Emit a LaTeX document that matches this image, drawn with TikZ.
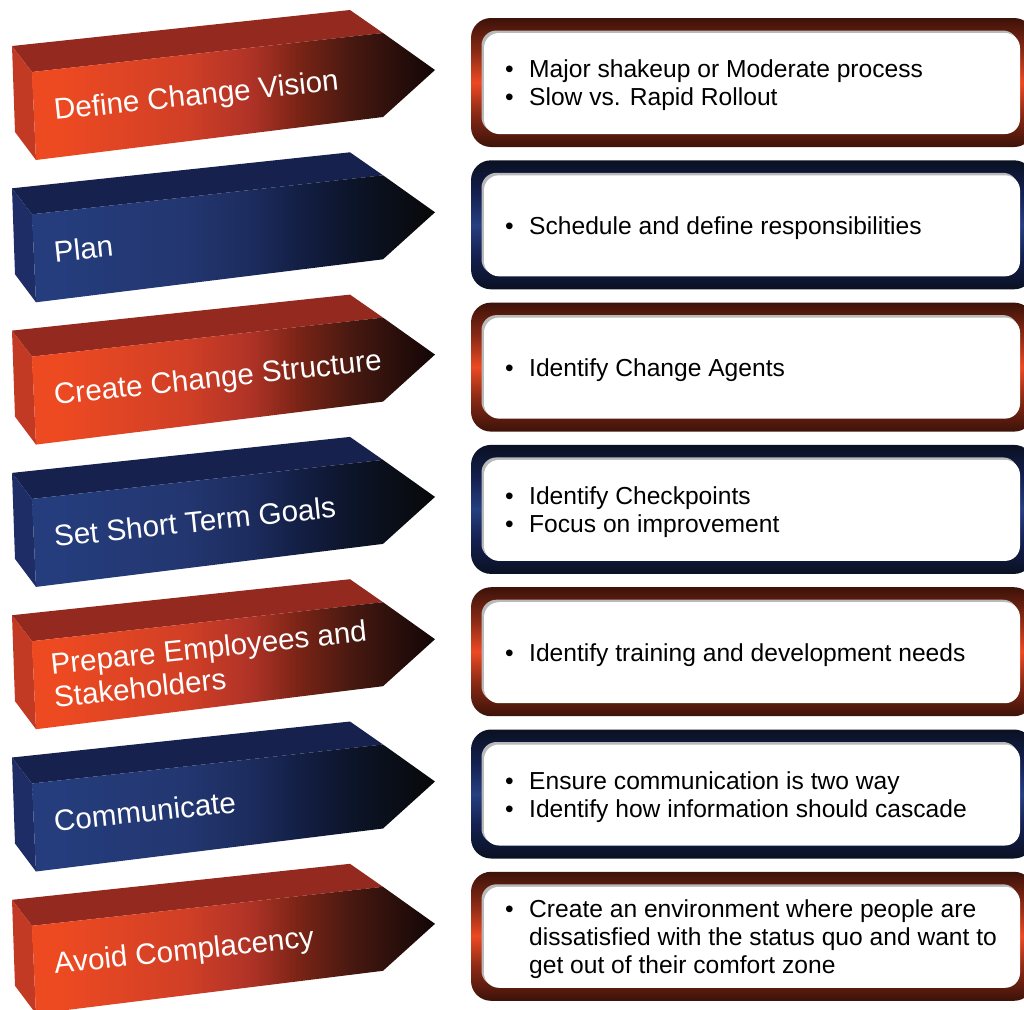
\documentclass[tikz,border=0pt]{standalone}
\usepackage{fontspec}
\setmainfont{Liberation Sans}
\usetikzlibrary{positioning}

\definecolor{oA}{HTML}{EE4A22}
\definecolor{oB}{HTML}{D13F26}
\definecolor{oC}{HTML}{B03327}
\definecolor{oD}{HTML}{7A2416}
\definecolor{oE}{HTML}{451810}
\definecolor{oF}{HTML}{120606}
\definecolor{oTop}{HTML}{942A1F}
\definecolor{oSide}{HTML}{C23A23}
\definecolor{oRim}{HTML}{3C1209}
\definecolor{oMid}{HTML}{8A2A16}
\definecolor{oGlow}{HTML}{EC4A22}

\definecolor{bA}{HTML}{253D7D}
\definecolor{bB}{HTML}{233670}
\definecolor{bC}{HTML}{1C2C5E}
\definecolor{bD}{HTML}{131F45}
\definecolor{bE}{HTML}{0C1428}
\definecolor{bF}{HTML}{080808}
\definecolor{bTop}{HTML}{17214E}
\definecolor{bSide}{HTML}{1E2D66}
\definecolor{bRim}{HTML}{0A1122}
\definecolor{bMid}{HTML}{142050}
\definecolor{bGlow}{HTML}{263F80}

\pgfdeclarehorizontalshading{oFace}{100bp}{color(0bp)=(oA); color(28bp)=(oA); color(44bp)=(oB); color(52bp)=(oC); color(58bp)=(oD); color(65bp)=(oE); color(75bp)=(oF); color(100bp)=(oF)}
\pgfdeclarehorizontalshading{bFace}{100bp}{color(0bp)=(bA); color(28bp)=(bA); color(44bp)=(bB); color(52bp)=(bC); color(58bp)=(bD); color(65bp)=(bE); color(75bp)=(bF); color(100bp)=(bF)}
\pgfdeclareverticalshading{oRimShade}{100bp}{color(0bp)=(oRim); color(25bp)=(oRim); color(38bp)=(oMid); color(50bp)=(oGlow); color(62bp)=(oMid); color(75bp)=(oRim); color(100bp)=(oRim)}
\pgfdeclareverticalshading{bRimShade}{100bp}{color(0bp)=(bRim); color(25bp)=(bRim); color(38bp)=(bMid); color(50bp)=(bGlow); color(62bp)=(bMid); color(75bp)=(bRim); color(100bp)=(bRim)}

\newcommand{\itm}{\makebox[24pt][l]{\textbullet}}
\newcommand{\hang}{\hspace*{24pt}}

\begin{document}
\begin{tikzpicture}[x=1pt, y=-1pt, line join=round,
    lbl/.style={text=white, inner sep=0pt, align=left, anchor=base west, rotate=6,
      font=\fontsize{29.6}{33}\selectfont},
    note/.style={text=black, inner sep=0pt, align=left, anchor=west,
      font=\fontsize{24.6}{28}\selectfont},
    rim/.style={rounded corners=20pt},
    pane/.style={rounded corners=15pt}]
\clip (0,0) rectangle (1024,1009);
\foreach \i/\sch/\dy/\lab/\txt in {
    1/o/0/{Define Change Vision}/{\itm Major shakeup or Moderate process\\\itm Slow vs. Rapid Rollout},
    2/b/0/{Plan}/{\itm Schedule and define responsibilities},
    3/o/0/{Create Change Structure}/{\itm Identify Change Agents},
    4/b/0/{Set Short Term Goals}/{\itm Identify Checkpoints\\\itm Focus on improvement},
    5/o/18/{Prepare Employees and\\Stakeholders}/{\itm Identify training and development needs},
    6/b/0/{Communicate}/{\itm Ensure communication is two way\\\itm Identify how information should cascade},
    7/o/0/{Avoid Complacency}/{\itm Create an environment where people are\\\hang dissatisfied with the status quo and want to\\\hang get out of their comfort zone}}
{
  \pgfmathsetmacro{\y}{142.3*(\i-1)}
  \fill[\sch Top] (12,46+\y) -- (350,10+\y) -- (383,33+\y) -- (32,72+\y) -- cycle;
  \fill[\sch Side] (12,46+\y) -- (32,72+\y) -- (36,160+\y) -- (15,132+\y) -- cycle;
  \shade[shading=\sch Face] (32,72+\y) -- (383,33+\y) -- (435,70+\y) -- (383,117+\y) -- (36,160+\y) -- cycle;
  \node[lbl] (step\i) at (55,120+\y+\dy) {\lab};

  \shade[rim, shading=\sch RimShade] (471,18+\y) rectangle (1034,147+\y);
  \fill[pane, gray!55] (481.5,30.5+\y) rectangle (1018,132+\y);
  \fill[pane, white] (484,33+\y) rectangle (1020,134+\y);
  \node[note] (note\i) at (505,85.5+\y) {\txt};
}
\end{tikzpicture}
\end{document}
